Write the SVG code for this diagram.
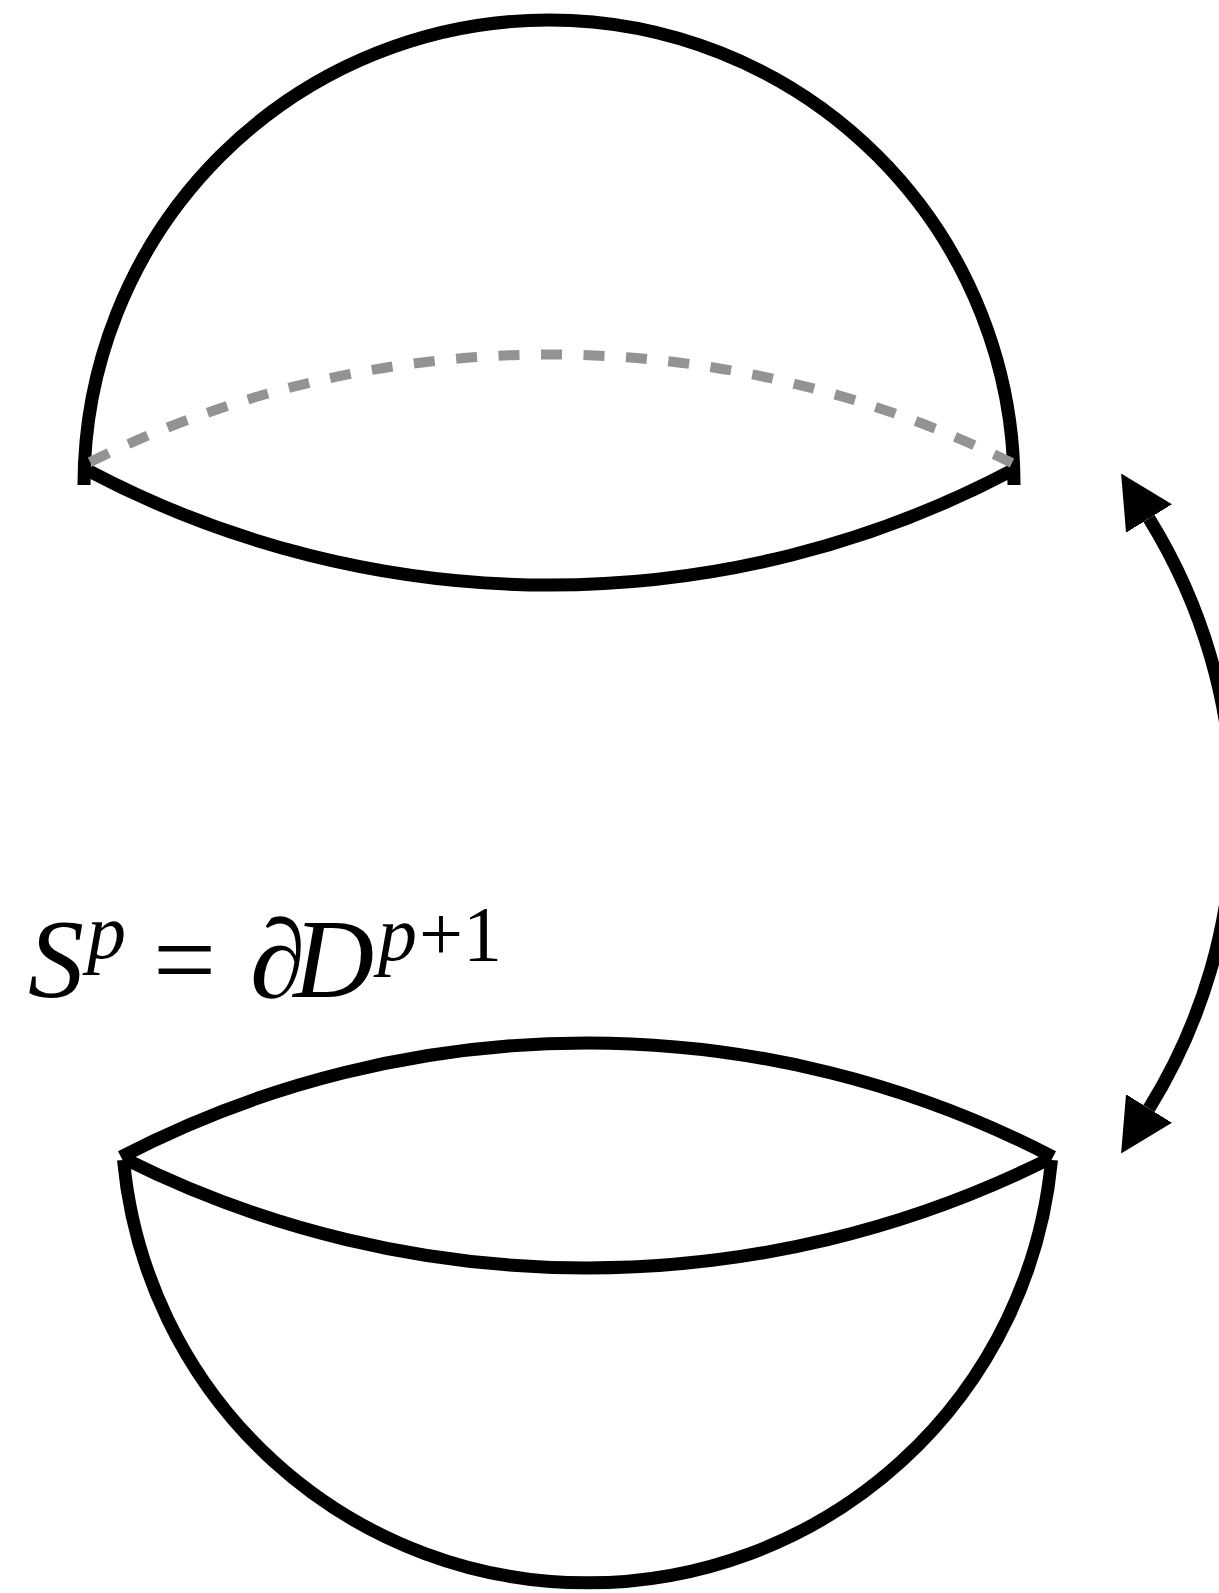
<svg xmlns="http://www.w3.org/2000/svg" width="1219" height="1593" viewBox="0 0 1219 1593">
<style>
.ln{fill:none;stroke:#000;stroke-width:13}
.hid{fill:none;stroke:#939393;stroke-width:10;stroke-dasharray:21 21.5}
.m{font-family:"Liberation Serif","Times New Roman",serif;fill:#000;font-size:112px}
.it{font-style:italic}
.sup{font-size:78px}
</style>
<defs>
<marker id="ah" markerUnits="userSpaceOnUse" viewBox="0 -28 54 56" refX="0" refY="0" markerWidth="54" markerHeight="56" orient="auto-start-reverse">
<path d="M0,-27 L53,0 L0,27 Z" fill="#000"/>
</marker>
</defs>
<rect width="1219" height="1593" fill="#fff"/>
<g id="upper-hemisphere">
<path class="ln" d="M84,485 A465,465 0 0 1 1014,485"/>
<path class="ln" d="M89,471 A989,989 0 0 0 1011,471"/>
<path class="hid" d="M90,462 A1038,1038 0 0 1 1012,463"/>
</g>
<g id="lower-hemisphere">
<path class="ln" d="M123.5,1160 A466,466 0 0 0 1051.5,1160"/>
<path class="ln" d="M121,1157 A1009,1009 0 0 1 1053,1157"/>
<path class="ln" d="M125,1159 A1034,1034 0 0 0 1049,1159"/>
</g>
<g id="label">
<text class="m"><tspan class="it" x="28" y="997">S</tspan><tspan class="it sup" x="87" y="958">p</tspan><tspan x="153" y="997">=</tspan><tspan class="it" x="250" y="997" letter-spacing="-12">∂D</tspan><tspan class="it sup" x="378" y="960">p</tspan><tspan class="sup" x="419" y="960">+1</tspan></text>
</g>
<g id="connectors">
<path class="ln" stroke-width="12" d="M1149,518.5 A560,560 0 0 1 1149,1108.5" marker-start="url(#ah)" marker-end="url(#ah)"/>
</g>
</svg>
